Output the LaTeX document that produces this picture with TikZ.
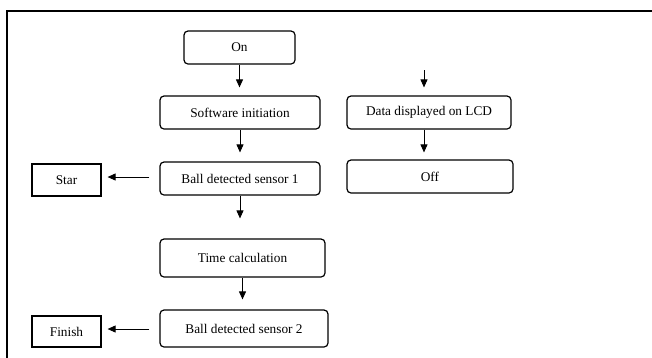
\documentclass[tikz,border=0pt]{standalone}
\usepackage{fontspec}
\setmainfont{Liberation Serif}
\usepackage{tikz}
\usetikzlibrary{calc, positioning, arrows.meta}
\tikzstyle{stepbox}=[draw, rounded corners=4pt, line width=1.2pt, inner sep=0pt, font=\fontsize{13.3}{15}\selectfont]
\tikzstyle{endbox}=[draw, line width=1.2pt, inner sep=0pt, font=\fontsize{13.3}{15}\selectfont]
\tikzstyle{flow}=[line width=0.9pt, ->]
\tikzset{>={Triangle[length=8pt,width=7pt]}}

\begin{document}
\begin{tikzpicture}[x=1pt, y=-1pt]
\useasboundingbox (0,0) rectangle (652,357);
\draw[line width=2pt] (7,360) -- (7,11) -- (655,11);
\node[stepbox, minimum width=111pt, minimum height=33pt] (On) at (239.5,47.5) {On};
\node[stepbox, minimum width=160pt, minimum height=33pt] (Init) at (240,112.5) {Software initiation};
\node[stepbox, minimum width=160pt, minimum height=33pt] (Ball1) at (240,178.5) {Ball detected sensor 1};
\node[stepbox, minimum width=165pt, minimum height=38pt] (Time) at (242.5,258) {Time calculation};
\node[stepbox, minimum width=168pt, minimum height=37pt] (Ball2) at (244,328.5) {Ball detected sensor 2};
\node[endbox, minimum width=69pt, minimum height=32pt] (Star) at (66.5,180) {Star};
\node[endbox, minimum width=69pt, minimum height=31pt] (Finish) at (66.5,331.5) {Finish};
\node[stepbox, minimum width=164pt, minimum height=33pt] (Data) at (429,112.5) {Data displayed on LCD};
\node[stepbox, minimum width=166pt, minimum height=33pt] (Off) at (430,176.5) {Off};
\coordinate (DataIn) at (424,70);
\draw[flow, shorten >=8pt] (On.south) -- (On.south |- Init.north);
\draw[flow, shorten >=9pt] (Init.south) -- (Init.south |- Ball1.north);
\draw[flow, shorten >=20pt] (Ball1.south) -- (Ball1.south |- Time.north);
\draw[flow, shorten >=10pt] (Time.south) -- (Time.south |- Ball2.north);
\draw[flow, shorten <=10pt, shorten >=6pt] (Ball1.west |- 0,177) -- (Star.east |- 0,177);
\draw[flow, shorten <=10pt, shorten >=6pt] (Ball2.west |- 0,329) -- (Finish.east |- 0,329);
\draw[flow, shorten >=8pt] (DataIn) -- (DataIn |- Data.north);
\draw[flow, shorten >=7pt] (DataIn |- Data.south) -- (DataIn |- Off.north);
\end{tikzpicture}
\end{document}
